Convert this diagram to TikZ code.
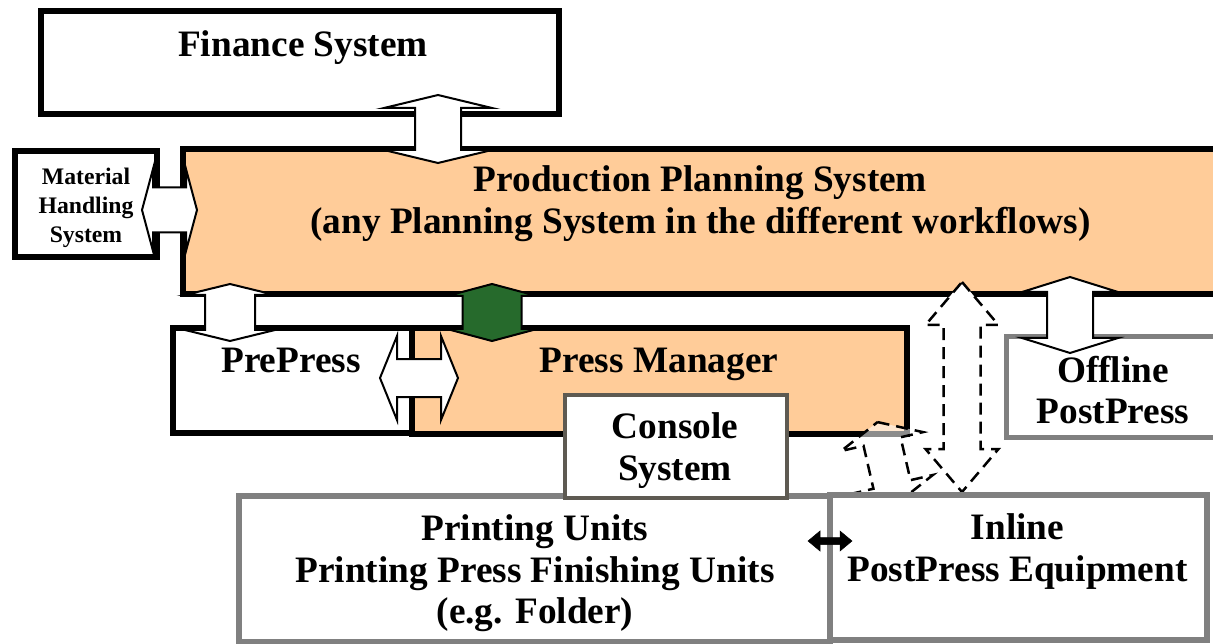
\documentclass[tikz,border=0pt]{standalone}
\usepackage{fontspec}
\setmainfont{Liberation Serif}
\definecolor{planorange}{RGB}{255,204,153}
\definecolor{linkgreen}{RGB}{38,106,44}
\definecolor{framegray}{RGB}{128,128,128}
\definecolor{consolegray}{RGB}{94,90,82}

% vertical double block arrow: [style]{cx}{y top tip}{y bottom tip}{shaft half}{head half}{head length}
\newcommand\vblockarrow[7][]{%
  \draw[#1] (#2,#3) -- ({#2+#6},{#3+#7}) -- ({#2+#5},{#3+#7}) -- ({#2+#5},{#4-#7})
    -- ({#2+#6},{#4-#7}) -- (#2,#4) -- ({#2-#6},{#4-#7}) -- ({#2-#5},{#4-#7})
    -- ({#2-#5},{#3+#7}) -- ({#2-#6},{#3+#7}) -- cycle;}
% horizontal double block arrow: [style]{cy}{x left tip}{x right tip}{shaft half}{head half}{head length}
\newcommand\hblockarrow[7][]{%
  \draw[#1] (#3,#2) -- ({#3+#7},{#2-#6}) -- ({#3+#7},{#2-#5}) -- ({#4-#7},{#2-#5})
    -- ({#4-#7},{#2-#6}) -- (#4,#2) -- ({#4-#7},{#2+#6}) -- ({#4-#7},{#2+#5})
    -- ({#3+#7},{#2+#5}) -- ({#3+#7},{#2+#6}) -- cycle;}

\begin{document}
\begin{tikzpicture}[x=1pt,y=-1pt,
  box/.style={draw=black, line width=6pt, fill=white, rectangle, inner sep=0pt, outer sep=0pt},
  plan/.style={box, fill=planorange},
  graybox/.style={box, draw=framegray},
  lbl/.style={font=\fontsize{37.3}{43}\selectfont\bfseries, anchor=base, inner sep=0pt},
  smalllbl/.style={font=\fontsize{23.7}{29}\selectfont\bfseries, anchor=base, inner sep=0pt},
  blockarrow/.style={draw=black, line width=2pt, fill=white, line join=miter},
  dasharrow/.style={draw=black, line width=2.5pt, dash pattern=on 12pt off 7pt, fill=white}]
\useasboundingbox (0,0) rectangle (1213,644);
\clip (0,0) rectangle (1213,644);

% systems
\node[box, minimum width=518pt, minimum height=103pt] (finance) at (300,62.5) {};
\node[box, minimum width=142pt, minimum height=106pt] (mhs) at (86,204) {};
\node[plan, minimum width=1057pt, minimum height=145pt] (planning) at (711.5,221.5) {};
\node[box, minimum width=239pt, minimum height=105pt] (prepress) at (292.5,380.5) {};
\node[plan, minimum width=495pt, minimum height=106pt] (pressmgr) at (659.5,381) {};
\node[graybox, line width=5pt, minimum width=234pt, minimum height=100pt] (offline) at (1123,387) {};

% interfaces
\vblockarrow[blockarrow]{438}{95}{163}{23}{54}{13}
\hblockarrow[blockarrow]{210}{142}{197}{22.5}{41}{11}
\vblockarrow[blockarrow]{230}{284}{341}{25}{45}{11}
\vblockarrow[blockarrow, fill=linkgreen]{492}{284}{341}{29.5}{45}{12}
\hblockarrow[blockarrow]{378}{380}{458}{19}{42}{17}
\vblockarrow[blockarrow]{1070}{277}{353}{23}{48}{15}

% optional links
\begin{scope}[rotate around={13:(887,463)}]
  \vblockarrow[dasharrow, fill opacity=0.55]{887}{421}{505}{19}{42}{20}
\end{scope}
\vblockarrow[dasharrow]{962}{282}{492}{18.5}{36.5}{43}

% press-side equipment
\node[graybox, minimum width=591pt, minimum height=146pt] (printing) at (534.5,569) {};
\node[graybox, minimum width=377pt, minimum height=145pt] (inline) at (1018.5,567.5) {};
\node[box, draw=consolegray, line width=4pt, minimum width=222pt, minimum height=103pt] (console) at (676,446.5) {};

\hblockarrow[draw=black, fill=black, line width=0.5pt]{541}{808}{852}{3.5}{10}{12}

% labels
\node[lbl] (tfin) at (303,57) {Finance System};
\node[smalllbl] (tmhs1) at (86,185) {Material};
\node[smalllbl] (tmhs2) at (86,214) {Handling};
\node[smalllbl] (tmhs3) at (86,243) {System};
\node[lbl] (tplan1) at (700.5,192) {Production Planning System};
\node[lbl] (tplan2) at (700.5,234) {(any Planning System in the different workflows)};
\node[lbl] (tpre) at (291,372) {PrePress};
\node[lbl] (tpm) at (659,372) {Press Manager};
\node[lbl] (toff1) at (1113,382) {Offline};
\node[lbl] (toff2) at (1113,423) {PostPress};
\node[lbl] (tcon1) at (675,438) {Console};
\node[lbl] (tcon2) at (675,480) {System};
\node[lbl] (tpu1) at (535,540) {Printing Units};
\node[lbl] (tpu2) at (535,582) {Printing Press Finishing Units};
\node[lbl] (tpu3) at (535,623) {(e.g. Folder)};
\node[lbl] (tin1) at (1017.5,539) {Inline};
\node[lbl] (tin2) at (1017.5,581) {PostPress Equipment};
\end{tikzpicture}
\end{document}
